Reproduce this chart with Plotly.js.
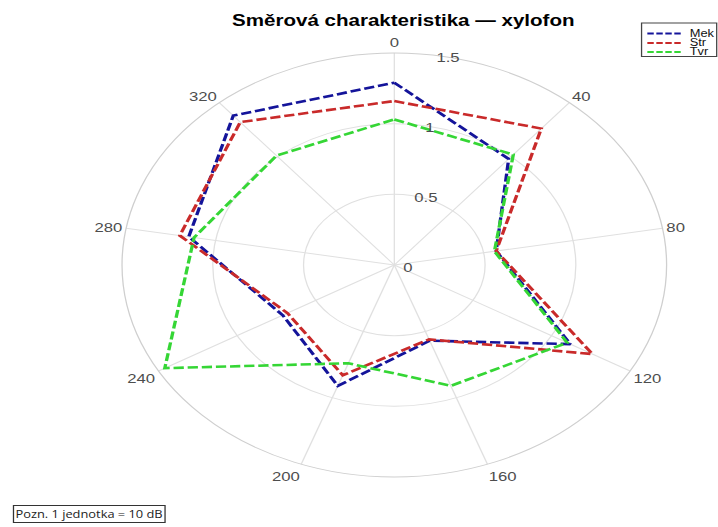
<!DOCTYPE html>
<html>
<head>
<meta charset="utf-8">
<script src="https://cdn.plot.ly/plotly-3.0.1.min.js"></script>
<style>
  html, body { margin: 0; padding: 0; background: #ffffff; overflow: hidden; }
  #chart { width: 559px; height: 527px; transform: scaleX(1.2844); transform-origin: 0 0; }
</style>
</head>
<body>
<div id="chart"></div>
<script>
// ---- data ----
const angles = [0, 40, 80, 120, 160, 200, 240, 280, 320];
const angleLabels = ["0", "40", "80", "120", "160", "200", "240", "280", "320"];
const radialTicks = [0, 0.5, 1, 1.5];
const radialTickLabels = ["0", "0.5", "1", "1.5"];
const seriesNames = ["Mek", "Str", "Tvr"];
const mek = [1.29, 0.98, 0.57, 1.12, 0.57, 0.91, 0.71, 1.15, 1.38];
const str = [1.16, 1.26, 0.57, 1.26, 0.56, 0.83, 0.68, 1.20, 1.32];
const tvr = [1.03, 1.02, 0.56, 1.10, 0.91, 0.74, 1.46, 1.12, 1.01];
const titleText = "Směrová charakteristika — xylofon";
const noteText = "Pozn. 1 jednotka = 10 dB";

// ---- styling ----
const colors = ["#14149a", "#c92a2a", "#35d635"];
const W = 559, H = 527;
const FONT = "Liberation Sans, Arial, sans-serif";

const seriesValues = [mek, str, tvr];
const traces = seriesValues.map((vals, i) => ({
  type: "scatterpolar",
  mode: "lines",
  name: seriesNames[i],
  r: vals.concat([vals[0]]),
  theta: angles.concat([angles[0]]),
  line: { color: colors[i], width: 2.6, dash: "8px,3px" },
  showlegend: false,
  hoverinfo: "skip"
}));

// custom compact legend (box + samples + labels)
const px = x => x / W;
const py = y => 1 - y / H;
const shapes = [{
  type: "rect", xref: "paper", yref: "paper",
  x0: px(499.5), x1: px(558), y0: py(56.5), y1: py(23),
  line: { color: "#444", width: 1 }, fillcolor: "#ffffff", layer: "above"
}];
const annotations = [];
const legendRows = [33.5, 43, 52];
seriesNames.forEach((n, i) => {
  shapes.push({
    type: "line", xref: "paper", yref: "paper",
    x0: px(504), x1: px(531.5), y0: py(legendRows[i]), y1: py(legendRows[i]),
    line: { color: colors[i], width: 2, dash: "5px,2px" }, layer: "above"
  });
  annotations.push({
    xref: "paper", yref: "paper", x: px(534.5), y: py(legendRows[i]),
    xanchor: "left", yanchor: "middle", showarrow: false, text: n,
    font: { family: FONT, size: 10, color: "#111" }
  });
});
annotations.push({
  xref: "paper", yref: "paper", x: px(10), y: py(513.5),
  xanchor: "left", yanchor: "middle", showarrow: false, text: noteText,
  font: { family: "Open Sans, sans-serif", size: 10, color: "#222" },
  bordercolor: "#333", borderwidth: 1, borderpad: 1, bgcolor: "#ffffff"
});

const layout = {
  width: W, height: H,
  margin: { l: 0, r: 0, t: 0, b: 0, pad: 0 },
  paper_bgcolor: "#ffffff",
  plot_bgcolor: "#ffffff",
  font: { family: FONT, color: "#4d4d4d", size: 13 },
  title: {
    text: "<b>" + titleText + "</b>",
    x: px(314), xref: "paper", xanchor: "center",
    y: py(20), yref: "container", yanchor: "middle",
    font: { family: FONT, size: 16, color: "#000000" }
  },
  showlegend: false,
  polar: {
    domain: { x: [px(95), px(519)], y: [py(477), py(53)] },
    bgcolor: "#ffffff",
    angularaxis: {
      rotation: 90, direction: "clockwise",
      tickmode: "array", tickvals: angles, ticktext: angleLabels,
      ticks: "", showline: true, linecolor: "#cfcfcf", linewidth: 1,
      showgrid: true, gridcolor: "#e0e0e0", gridwidth: 1,
      tickfont: { family: FONT, size: 13, color: "#4d4d4d" }
    },
    radialaxis: {
      range: [0, 1.5], angle: 83,
      tickmode: "array", tickvals: radialTicks, ticktext: radialTickLabels,
      ticks: "", showline: false,
      showgrid: true, gridcolor: "#e0e0e0", gridwidth: 1,
      tickfont: { family: FONT, size: 13, color: "#4d4d4d" },
      tickangle: 83
    }
  },
  shapes: shapes,
  annotations: annotations
};

Plotly.newPlot("chart", traces, layout, { staticPlot: true, displayModeBar: false });
</script>
</body>
</html>
